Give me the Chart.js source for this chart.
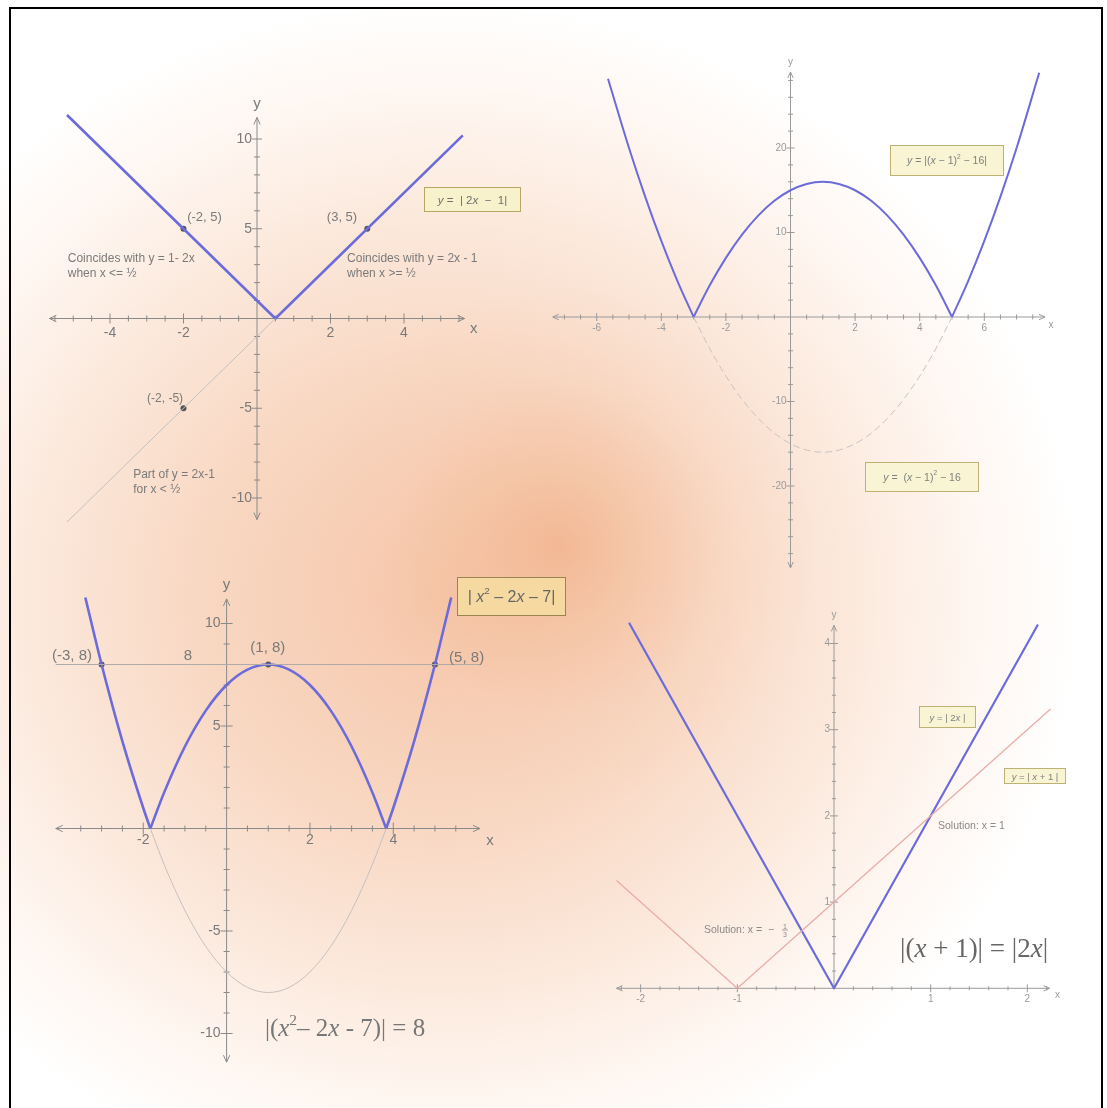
<!DOCTYPE html>
<html><head><meta charset="utf-8">
<script src="https://cdn.jsdelivr.net/npm/chart.js@4.4.1/dist/chart.umd.min.js"></script>
<style>
html,body{margin:0;padding:0;background:#fff;}
#page{position:relative;width:1107px;height:1108px;overflow:hidden;
background:
 radial-gradient(circle at 560px 545px, rgba(236,155,105,0.45) 0px, rgba(240,170,125,0.3) 80px, rgba(245,190,160,0.12) 170px, rgba(255,255,255,0) 260px),
 radial-gradient(ellipse 640px 600px at 440px 600px, rgb(246,200,172) 0%, rgb(248,214,192) 35%, rgb(251,230,216) 60%, rgb(254,244,237) 80%, rgb(255,255,255) 100%);}
#frame{position:absolute;left:9px;top:7px;width:1094px;height:1130px;border:2px solid #000;box-sizing:border-box;}
canvas{position:absolute;left:0;top:0;}
</style></head>
<body><div id="page">
<canvas id="c1"></canvas><canvas id="c2"></canvas><canvas id="c3"></canvas><canvas id="c4"></canvas>
<div id="frame"></div>
</div>
<script>
// ================= DATA =================
// Panel 1 : y = |2x - 1|
const p1AbsX = [-5.17, 0.5, 5.6];
const p1AbsY = [11.34, 0, 10.2];
const p1LineX = [-5.17, 0.5];
const p1LineY = [-11.34, 0];
const p1PtsX = [-2, 3, -2];
const p1PtsY = [5, 5, -5];
const p1XTickLabels = [-4, -2, 2, 4];
const p1YTickLabels = [10, 5, -5, -10];

// Panel 2 : y = |(x-1)^2 - 16|
const p2LeftX = [-5.65, -5, -4.5, -4, -3.5, -3];
const p2LeftY = [28.2, 20, 14.25, 9, 4.25, 0];
const p2MidX = [-3, -2.5, -2, -1.5, -1, -0.5, 0, 0.5, 1, 1.5, 2, 2.5, 3, 3.5, 4, 4.5, 5];
const p2MidY = [0, 3.75, 7, 9.75, 12, 13.75, 15, 15.75, 16, 15.75, 15, 13.75, 12, 9.75, 7, 3.75, 0];
const p2RightX = [5, 5.5, 6, 6.5, 7, 7.7];
const p2RightY = [0, 4.25, 9, 14.25, 20, 28.9];
const p2DashY = [0, -3.75, -7, -9.75, -12, -13.75, -15, -15.75, -16, -15.75, -15, -13.75, -12, -9.75, -7, -3.75, 0];
const p2XTickLabels = [-6, -4, -2, 2, 4, 6];
const p2YTickLabels = [20, 10, -10, -20];

// Panel 3 : y = |x^2 - 2x - 7|, y = 8
const p3LeftX = [-3.39, -3, -2.5, -2, -1.83];
const p3LeftY = [11.27, 8, 4.25, 1, 0];
const p3MidX = [-1.83, -1.5, -1, -0.5, 0, 0.5, 1, 1.5, 2, 2.5, 3, 3.5, 3.83];
const p3MidY = [0, 1.75, 4, 5.75, 7, 7.75, 8, 7.75, 7, 5.75, 4, 1.75, 0];
const p3RightX = [3.83, 4, 4.5, 5, 5.39];
const p3RightY = [0, 1, 4.25, 8, 11.27];
const p3LowY = [0, -1.75, -4, -5.75, -7, -7.75, -8, -7.75, -7, -5.75, -4, -1.75, 0];
const p3HLineX = [-4.1, 6.1];
const p3HLineY = [8, 8];
const p3PtsX = [-3, 1, 5];
const p3PtsY = [8, 8, 8];
const p3XTickLabels = [-2, 2, 4];
const p3YTickLabels = [10, 5, -5, -10];

// Panel 4 : y = |2x| and y = |x + 1|
const p4AbsX = [-2.12, 0, 2.11];
const p4AbsY = [4.24, 0, 4.22];
const p4RedX = [-2.25, -1, 2.24];
const p4RedY = [1.25, 0, 3.24];
const p4XTickLabels = [-2, -1, 1, 2];
const p4YTickLabels = [1, 2, 3, 4];

// ================= HELPERS =================
const W = 1107, H = 1108;
const SANS = '"Liberation Sans", Arial, sans-serif';
const SERIF = '"Liberation Serif", "Times New Roman", serif';
const BLUE = '#6b6bdb';

function pts(xs, ys) { return xs.map((x, i) => ({x: x, y: ys[i]})); }
function curve(xs, ys, color, width, extra) {
  return Object.assign({data: pts(xs, ys), showLine: true, borderColor: color, borderWidth: width,
    pointRadius: 0, fill: false, clip: false, cubicInterpolationMode: 'monotone'}, extra || {});
}
function poly(xs, ys, color, width, extra) {
  return Object.assign({data: pts(xs, ys), showLine: true, borderColor: color, borderWidth: width,
    pointRadius: 0, fill: false, clip: false, tension: 0, borderJoinStyle: 'round'}, extra || {});
}
function dots(xs, ys) {
  return {data: pts(xs, ys), showLine: false, pointRadius: 3, pointBackgroundColor: '#555',
    pointBorderColor: '#555', pointBorderWidth: 0, clip: false};
}

function drawRich(ctx, segs, x, y, size, family, color, align) {
  const fontFor = s => (s && s.indexOf('i') >= 0 ? 'italic ' : '') + ((s && s.indexOf('s') >= 0) ? size * 0.62 : size) + 'px ' + family;
  let total = 0;
  segs.forEach(([t, s]) => { ctx.font = fontFor(s); total += ctx.measureText(t).width; });
  let cx = align === 'center' ? x - total / 2 : align === 'right' ? x - total : x;
  ctx.fillStyle = color;
  ctx.textAlign = 'left';
  segs.forEach(([t, s]) => {
    ctx.font = fontFor(s);
    ctx.fillText(t, cx, y - ((s && s.indexOf('s') >= 0) ? size * 0.42 : 0));
    cx += ctx.measureText(t).width;
  });
}

const axesPlugin = {
  id: 'mathAxes',
  beforeDatasetsDraw(chart, args, o) {
    const ctx = chart.ctx, sx = chart.scales.x, sy = chart.scales.y;
    const X = v => sx.getPixelForValue(v), Y = v => sy.getPixelForValue(v);
    const x0 = X(0), y0 = Y(0);
    const xa = X(sx.min), xb = X(sx.max), ya = Y(sy.max), yb = Y(sy.min);
    ctx.save();
    ctx.strokeStyle = o.color; ctx.lineWidth = 1;
    const L = (a, b, c, d) => { ctx.beginPath(); ctx.moveTo(a, b); ctx.lineTo(c, d); ctx.stroke(); };
    L(xa, y0, xb, y0);
    L(x0, ya, x0, yb);
    const A = o.arrow, w = o.arrow * 0.45;
    L(xb, y0, xb - A, y0 - w); L(xb, y0, xb - A, y0 + w);
    L(xa, y0, xa + A, y0 - w); L(xa, y0, xa + A, y0 + w);
    L(x0, ya, x0 - w, ya + A); L(x0, ya, x0 + w, ya + A);
    if (o.yArrowBottom) { L(x0, yb, x0 - w, yb - A); L(x0, yb, x0 + w, yb - A); }
    const isMajor = (v, arr) => arr.some(a => Math.abs(a - v) < 1e-6);
    const nx1 = Math.round(o.xTickMin / o.xStep), nx2 = Math.round(o.xTickMax / o.xStep);
    for (let i = nx1; i <= nx2; i++) {
      const v = i * o.xStep; if (i === 0) continue;
      const m = isMajor(v, o.xLabels) ? o.major : o.minor;
      L(X(v), y0 - m, X(v), y0 + m);
    }
    const ny1 = Math.round(o.yTickMin / o.yStep), ny2 = Math.round(o.yTickMax / o.yStep);
    for (let i = ny1; i <= ny2; i++) {
      const v = i * o.yStep; if (i === 0) continue;
      const m = isMajor(v, o.yLabels) ? o.major : o.minor;
      L(x0 - m, Y(v), x0 + m, Y(v));
    }
    ctx.fillStyle = o.labelColor; ctx.font = o.font;
    ctx.textAlign = 'center'; ctx.textBaseline = 'top';
    o.xLabels.forEach(v => ctx.fillText(String(v), X(v), y0 + o.xLabDy));
    ctx.textAlign = 'right'; ctx.textBaseline = 'middle';
    o.yLabels.forEach(v => ctx.fillText(String(v), x0 - o.yLabDx, Y(v)));
    ctx.font = o.nameFont; ctx.textAlign = 'center'; ctx.textBaseline = 'middle';
    ctx.fillText('x', xb + o.xNameDx, y0 + o.xNameDy);
    ctx.textBaseline = 'alphabetic';
    ctx.fillText('y', x0, ya - o.yNameDy);
    ctx.restore();
  }
};

const notesPlugin = {
  id: 'notes',
  afterDatasetsDraw(chart, args, o) {
    const ctx = chart.ctx, sx = chart.scales.x, sy = chart.scales.y;
    const X = v => sx.getPixelForValue(v), Y = v => sy.getPixelForValue(v);
    ctx.save();
    (o.items || []).forEach(n => {
      if (n.kind === 'text') {
        ctx.textBaseline = 'alphabetic';
        drawRich(ctx, n.segs, X(n.x), Y(n.y), n.size, n.family || SANS, n.color, n.align || 'left');
      } else if (n.kind === 'box') {
        const x1 = Math.round(X(n.x1)) + 0.5, y1 = Math.round(Y(n.y1)) + 0.5;
        const x2 = Math.round(X(n.x2)) + 0.5, y2 = Math.round(Y(n.y2)) + 0.5;
        ctx.fillStyle = n.fill; ctx.fillRect(x1, y1, x2 - x1, y2 - y1);
        ctx.strokeStyle = n.stroke; ctx.lineWidth = 1; ctx.strokeRect(x1, y1, x2 - x1, y2 - y1);
        ctx.textBaseline = 'middle';
        drawRich(ctx, n.segs, (x1 + x2) / 2, (y1 + y2) / 2 + 1, n.size, n.family || SANS, n.color, 'center');
      } else if (n.kind === 'frac') {
        const cx = X(n.x), cy = Y(n.y);
        ctx.fillStyle = n.color; ctx.strokeStyle = n.color; ctx.lineWidth = 0.8;
        ctx.font = n.size + 'px ' + SANS; ctx.textAlign = 'center';
        ctx.textBaseline = 'alphabetic'; ctx.fillText(n.num, cx, cy - 1.5);
        ctx.textBaseline = 'top'; ctx.fillText(n.den, cx, cy + 1.5);
        ctx.beginPath(); ctx.moveTo(cx - 3, cy); ctx.lineTo(cx + 3, cy); ctx.stroke();
      }
    });
    ctx.restore();
  }
};

function makeChart(id, map, datasets, axisOpts, notes) {
  const c = document.getElementById(id);
  c.width = W; c.height = H;
  const left = map.x0 + map.xmin * map.xs;
  const right = W - (map.x0 + map.xmax * map.xs);
  const top = map.y0 - map.ymax * map.ys;
  const bottom = H - (map.y0 - map.ymin * map.ys);
  return new Chart(c, {
    type: 'scatter',
    data: {datasets: datasets},
    options: {
      responsive: false, animation: false, devicePixelRatio: 1, events: [],
      layout: {padding: {left: left, right: right, top: top, bottom: bottom}},
      scales: {
        x: {type: 'linear', min: map.xmin, max: map.xmax, display: false},
        y: {type: 'linear', min: map.ymin, max: map.ymax, display: false}
      },
      plugins: {legend: {display: false}, tooltip: {enabled: false}, mathAxes: axisOpts, notes: {items: notes}}
    },
    plugins: [axesPlugin, notesPlugin]
  });
}

// ================= PANEL 1 =================
makeChart('c1',
  {x0: 257, xs: 36.75, y0: 318.5, ys: 17.95, xmin: -5.65, xmax: 5.65, ymin: -11.2, ymax: 11.2},
  [poly(p1LineX, p1LineY, '#c4c0c0', 1), poly(p1AbsX, p1AbsY, BLUE, 2.6), dots(p1PtsX, p1PtsY)],
  {color: '#8a8a8a', arrow: 7, xStep: 0.5, xTickMin: -5.5, xTickMax: 5.5, yStep: 1, yTickMin: -10, yTickMax: 10,
   minor: 3, major: 5, xLabels: p1XTickLabels, yLabels: p1YTickLabels, font: '14px ' + SANS, labelColor: '#7a7a7a',
   xLabDy: 8, yLabDx: 5, yArrowBottom: true, nameFont: '15px ' + SANS, xNameDx: 9, xNameDy: 10, yNameDy: 9},
  [
    {kind: 'text', x: -1.9, y: 5.43, segs: [['(-2, 5)']], size: 13, color: '#7a7a7a'},
    {kind: 'text', x: 1.9, y: 5.43, segs: [['(3, 5)']], size: 13, color: '#7a7a7a'},
    {kind: 'text', x: -5.15, y: 3.15, segs: [['Coincides with y = 1- 2x']], size: 12, color: '#7a7a7a'},
    {kind: 'text', x: -5.15, y: 2.31, segs: [['when x <= ½']], size: 12, color: '#7a7a7a'},
    {kind: 'text', x: 2.45, y: 3.15, segs: [['Coincides with y = 2x - 1']], size: 12, color: '#7a7a7a'},
    {kind: 'text', x: 2.45, y: 2.31, segs: [['when x >= ½']], size: 12, color: '#7a7a7a'},
    {kind: 'text', x: -2.99, y: -4.65, segs: [['(-2, -5)']], size: 12, color: '#7a7a7a'},
    {kind: 'text', x: -3.37, y: -8.89, segs: [['Part of y = 2x-1']], size: 12, color: '#7a7a7a'},
    {kind: 'text', x: -3.37, y: -9.72, segs: [['for x < ½']], size: 12, color: '#7a7a7a'},
    {kind: 'box', x1: 4.54, y1: 7.33, x2: 7.16, y2: 5.99, fill: '#f7f1cc', stroke: '#b6a662',
     segs: [['y', 'i'], [' =  | 2'], ['x', 'i'], ['  −  1|']], size: 11.5, color: '#707070'}
  ]);

// ================= PANEL 2 =================
makeChart('c2',
  {x0: 790.5, xs: 32.3, y0: 317, ys: 8.45, xmin: -7.36, xmax: 7.88, ymin: -29.7, ymax: 29},
  [curve(p2MidX, p2DashY, '#c8c2c0', 1, {borderDash: [7, 4]}),
   curve(p2LeftX, p2LeftY, BLUE, 2), curve(p2MidX, p2MidY, BLUE, 2), curve(p2RightX, p2RightY, BLUE, 2)],
  {color: '#9a9a9a', arrow: 6, xStep: 0.5, xTickMin: -7, xTickMax: 7.5, yStep: 2, yTickMin: -28, yTickMax: 28,
   minor: 2.5, major: 4, xLabels: p2XTickLabels, yLabels: p2YTickLabels, font: '10px ' + SANS, labelColor: '#9a9a9a',
   xLabDy: 6, yLabDx: 4, yArrowBottom: true, nameFont: '10px ' + SANS, xNameDx: 6, xNameDy: 8, yNameDy: 7},
  [
    {kind: 'box', x1: 3.08, y1: 20.36, x2: 6.58, y2: 16.8, fill: '#f8f4d4', stroke: '#bdb274',
     segs: [['y', 'i'], [' = |('], ['x', 'i'], [' − 1)'], ['2', 's'], [' − 16|']], size: 10.5, color: '#808080'},
    {kind: 'box', x1: 2.31, y1: -17.16, x2: 5.8, y2: -20.6, fill: '#f8f4d4', stroke: '#bdb274',
     segs: [['y', 'i'], [' =  ('], ['x', 'i'], [' − 1)'], ['2', 's'], [' − 16']], size: 10.5, color: '#808080'}
  ]);

// ================= PANEL 3 =================
makeChart('c3',
  {x0: 226.6, xs: 41.67, y0: 828.5, ys: 20.5, xmin: -4.1, xmax: 6.08, ymin: -11.4, ymax: 11.2},
  [poly(p3HLineX, p3HLineY, '#b0aaa8', 1), curve(p3MidX, p3LowY, '#c4c0c0', 1),
   curve(p3LeftX, p3LeftY, BLUE, 2.6), curve(p3MidX, p3MidY, BLUE, 2.6), curve(p3RightX, p3RightY, BLUE, 2.6),
   dots(p3PtsX, p3PtsY)],
  {color: '#8a8a8a', arrow: 7, xStep: 0.5, xTickMin: -3.5, xTickMax: 5.5, yStep: 1, yTickMin: -10, yTickMax: 10,
   minor: 3, major: 6, xLabels: p3XTickLabels, yLabels: p3YTickLabels, font: '14px ' + SANS, labelColor: '#7a7a7a',
   xLabDy: 5, yLabDx: 6, yArrowBottom: true, nameFont: '15px ' + SANS, xNameDx: 10, xNameDy: 12, yNameDy: 10},
  [
    {kind: 'text', x: -3.23, y: 8.2, segs: [['(-3, 8)']], size: 15, color: '#7a7a7a', align: 'right'},
    {kind: 'text', x: -0.93, y: 8.2, segs: [['8']], size: 15, color: '#7a7a7a', align: 'center'},
    {kind: 'text', x: 0.99, y: 8.6, segs: [['(1, 8)']], size: 15, color: '#7a7a7a', align: 'center'},
    {kind: 'text', x: 5.34, y: 8.12, segs: [['(5, 8)']], size: 15, color: '#7a7a7a'},
    {kind: 'box', x1: 5.53, y1: 12.27, x2: 8.12, y2: 10.41, fill: '#f6d9a0', stroke: '#9c8450',
     segs: [['| '], ['x', 'i'], ['2', 's'], [' – 2'], ['x', 'i'], [' – 7|']], size: 16, color: '#666'},
    {kind: 'text', x: 0.92, y: -10.12, segs: [['|('], ['x', 'i'], ['2', 's'], ['– 2'], ['x', 'i'], [' - 7)| = 8']],
     size: 25, family: SERIF, color: '#777'}
  ]);

// ================= PANEL 4 =================
makeChart('c4',
  {x0: 834, xs: 96.67, y0: 988.3, ys: 86.2, xmin: -2.25, xmax: 2.23, ymin: 0, ymax: 4.21},
  [poly(p4RedX, p4RedY, '#eaaaa6', 1.2), poly(p4AbsX, p4AbsY, BLUE, 2.2)],
  {color: '#9a9a9a', arrow: 6, xStep: 0.2, xTickMin: -2.2, xTickMax: 2.2, yStep: 0.2, yTickMin: 0.2, yTickMax: 4.0,
   minor: 2, major: 4, xLabels: p4XTickLabels, yLabels: p4YTickLabels, font: '10px ' + SANS, labelColor: '#9a9a9a',
   xLabDy: 6, yLabDx: 4, yArrowBottom: false, nameFont: '10px ' + SANS, xNameDx: 8, xNameDy: 7, yNameDy: 7},
  [
    {kind: 'box', x1: 0.879, y1: 3.275, x2: 1.459, y2: 3.031, fill: '#f8f4d4', stroke: '#bdb274',
     segs: [['y', 'i'], [' = | 2'], ['x', 'i'], [' |']], size: 9.5, color: '#808080'},
    {kind: 'box', x1: 1.756, y1: 2.557, x2: 2.39, y2: 2.383, fill: '#f8f4d4', stroke: '#bdb274',
     segs: [['y', 'i'], [' = | '], ['x', 'i'], [' + 1 |']], size: 9.5, color: '#808080'},
    {kind: 'text', x: 1.076, y: 1.85, segs: [['Solution: x = 1']], size: 10.5, color: '#8a8a8a'},
    {kind: 'text', x: -1.345, y: 0.64, segs: [['Solution: x =  −']], size: 10.5, color: '#8a8a8a'},
    {kind: 'frac', x: -0.507, y: 0.676, num: '1', den: '3', size: 7, color: '#8a8a8a'},
    {kind: 'text', x: 0.683, y: 0.364, segs: [['|('], ['x', 'i'], [' + 1)| = |2'], ['x', 'i'], ['|']],
     size: 27, family: SERIF, color: '#666'}
  ]);
</script>
</body></html>
